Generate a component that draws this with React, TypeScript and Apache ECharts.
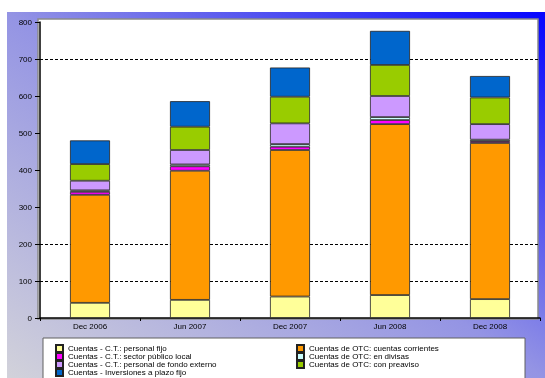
import React, { useEffect, useRef } from "react";
import * as echarts from "echarts";

const categories = ["Dec 2006", "Jun 2007", "Dec 2007", "Jun 2008", "Dec 2008"];
const yTicks = [0, 100, 200, 300, 400, 500, 600, 700, 800];

const seriesNames = [
  "Cuentas - C.T.: personal fijo",
  "Cuentas de OTC: cuentas corrientes",
  "Cuentas - C.T.: sector público local",
  "Cuentas de OTC: en divisas",
  "Cuentas - C.T.: personal de fondo externo",
  "Cuentas de OTC: con preaviso",
  "Cuentas - Inversiones a plazo fijo",
];
const seriesColors = ["#FFFF99", "#FF9900", "#FF00FF", "#CCFFFF", "#CC99FF", "#99CC00", "#0066CC"];

const personalFijo = [41, 49, 58, 62, 51];
const cuentasCorrientes = [292, 349, 396, 462, 422];
const sectorPublico = [8, 12, 9, 11, 5];
const enDivisas = [4, 5, 7, 8, 4];
const fondoExterno = [26, 39, 56, 57, 42];
const conPreaviso = [45, 63, 72, 84, 72];
const inversiones = [64, 69, 79, 92, 58];

const seriesValues = [
  personalFijo,
  cuentasCorrientes,
  sectorPublico,
  enDivisas,
  fondoExterno,
  conPreaviso,
  inversiones,
];

export default function App() {
  const ref = useRef<HTMLDivElement>(null);
  useEffect(() => {
    if (!ref.current) return;
    const chart = echarts.init(ref.current, undefined, { renderer: "svg" });
    const font = "Liberation Sans";
    const gridColors = yTicks.map((t) => (t === 100 || t === 200 || t === 700 ? "#000" : "transparent"));
    const legendBase = {
      orient: "vertical",
      top: 339,
      height: 80,
      itemWidth: 7,
      itemHeight: 7,
      itemGap: -1,
      icon: "rect",
      textStyle: { fontSize: 8, color: "#000", lineHeight: 8, fontFamily: font },
    };
    chart.setOption({
      animation: false,
      textStyle: { fontFamily: font },
      graphic: [
        {
          type: "rect",
          z: -10,
          silent: true,
          shape: { x: 7, y: 12, width: 538, height: 366 },
          style: {
            fill: new echarts.graphic.LinearGradient(0, 1, 1, 0, [
              { offset: 0, color: "#d2d2da" },
              { offset: 0.5, color: "#9494e4" },
              { offset: 1, color: "#0505ff" },
            ]),
          },
        },
        {
          type: "rect",
          z: -9,
          silent: true,
          shape: { x: 38, y: 19, width: 500, height: 300 },
          style: { fill: "#ffffff", stroke: "#8a8a8a", lineWidth: 1.5 },
        },
        {
          type: "rect",
          z: -9,
          silent: true,
          shape: { x: 43, y: 338, width: 482, height: 50 },
          style: { fill: "#ffffff", stroke: "#606060", lineWidth: 1 },
        },
      ],
      grid: { left: 40, right: 5, top: 22, bottom: 60, containLabel: false },
      legend: [
        {
          ...legendBase,
          data: [seriesNames[0], seriesNames[2], seriesNames[4], seriesNames[6]],
          left: 50,
        },
        {
          ...legendBase,
          data: [seriesNames[1], seriesNames[3], seriesNames[5]],
          left: 291,
        },
      ],
      xAxis: {
        type: "category",
        data: categories,
        axisLine: { lineStyle: { color: "#000", width: 1.5 } },
        axisTick: { show: true, length: 3, lineStyle: { color: "#000" } },
        axisLabel: { fontSize: 8, color: "#000", margin: 4, fontFamily: font },
      },
      yAxis: {
        type: "value",
        min: 0,
        max: 800,
        interval: 100,
        axisLine: { show: true, lineStyle: { color: "#000", width: 1.5 } },
        axisTick: { show: true, length: 5, lineStyle: { color: "#000" } },
        axisLabel: { fontSize: 8, color: "#000", margin: 8, fontFamily: font },
        splitLine: { show: true, lineStyle: { type: [3, 2], color: gridColors, width: 1 } },
      },
      series: seriesNames.map((name, i) => ({
        name,
        type: "bar",
        stack: "total",
        barWidth: 40,
        data: seriesValues[i],
        itemStyle: { color: seriesColors[i], borderColor: "#222", borderWidth: 0.8 },
      })),
    });
    return () => chart.dispose();
  }, []);
  return (
    <div
      ref={ref}
      style={{ position: "fixed", left: 0, top: 0, width: 545, height: 378 }}
    />
  );
}
